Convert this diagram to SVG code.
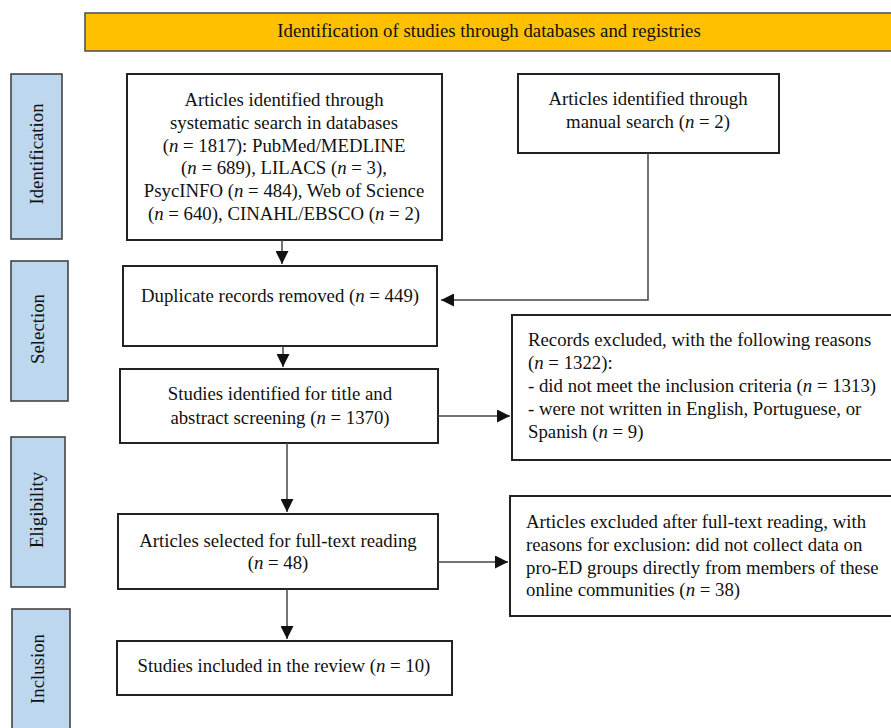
<svg xmlns="http://www.w3.org/2000/svg" width="891" height="728" viewBox="0 0 891 728">
<defs>
<style>
text{font-family:'Liberation Serif',Tinos,'Times New Roman','DejaVu Serif',serif;font-size:18.8px;fill:#111}
.c{text-anchor:middle}
.i{font-style:italic}
.box{fill:#fff;stroke:#222;stroke-width:2}
.side{fill:#BDD7EE;stroke:#444;stroke-width:1.6}
.hdr{fill:#FFC000;stroke:#555;stroke-width:1.6}
.ln{fill:none;stroke:#444;stroke-width:1.5}
</style>
<marker id="ah2" viewBox="0 0 12 12" refX="12" refY="6" markerWidth="13" markerHeight="13" markerUnits="userSpaceOnUse" orient="auto">
<path d="M0,0 L12,6 L0,12 z" fill="#111"/>
</marker>
</defs>
<g id="header">
<rect class="hdr" x="85" y="13" width="810" height="38"/>
<text class="c" x="489" y="36.5">Identification of studies through databases and registries</text>
</g>
<g id="phase-identification">
<rect class="side" x="11" y="74" width="51" height="165"/>
<text class="c" transform="translate(43,154) rotate(-90)">Identification</text>
</g>
<g id="phase-selection">
<rect class="side" x="11" y="261" width="57" height="140"/>
<text class="c" transform="translate(44,329) rotate(-90)">Selection</text>
</g>
<g id="phase-eligibility">
<rect class="side" x="11" y="437" width="54" height="150"/>
<text class="c" transform="translate(43,510) rotate(-90)">Eligibility</text>
</g>
<g id="phase-inclusion">
<rect class="side" x="12" y="609" width="58" height="130"/>
<text class="c" transform="translate(44,669) rotate(-90)">Inclusion</text>
</g>
<g id="db-search">
<rect class="box" x="127" y="74" width="315" height="166"/>
<text class="c" x="284" y="106">Articles identified through</text>
<text class="c" x="284" y="129">systematic search in databases</text>
<text class="c" x="284" y="152">(<tspan class="i">n</tspan> = 1817): PubMed/MEDLINE</text>
<text class="c" x="284" y="174">(<tspan class="i">n</tspan> = 689), LILACS (<tspan class="i">n</tspan> = 3),</text>
<text class="c" x="284" y="197">PsycINFO (<tspan class="i">n</tspan> = 484), Web of Science</text>
<text class="c" x="284" y="220">(<tspan class="i">n</tspan> = 640), CINAHL/EBSCO (<tspan class="i">n</tspan> = 2)</text>
</g>
<g id="manual-search">
<rect class="box" x="518" y="74" width="261" height="79"/>
<text class="c" x="648" y="105">Articles identified through</text>
<text class="c" x="648" y="128">manual search (<tspan class="i">n</tspan> = 2)</text>
</g>
<g id="duplicates">
<rect class="box" x="123" y="266" width="314" height="80"/>
<text class="c" x="280" y="302">Duplicate records removed (<tspan class="i">n</tspan> = 449)</text>
</g>
<g id="screening">
<rect class="box" x="120" y="369" width="318" height="74"/>
<text class="c" x="280" y="400">Studies identified for title and</text>
<text class="c" x="280" y="424">abstract screening (<tspan class="i">n</tspan> = 1370)</text>
</g>
<g id="records-excluded">
<rect class="box" x="512" y="315" width="390" height="145"/>
<text x="528" y="346">Records excluded, with the following reasons</text>
<text x="528" y="369">(<tspan class="i">n</tspan> = 1322):</text>
<text x="528" y="392">- did not meet the inclusion criteria (<tspan class="i">n</tspan> = 1313)</text>
<text x="528" y="415">- were not written in English, Portuguese, or</text>
<text x="528" y="438">Spanish (<tspan class="i">n</tspan> = 9)</text>
</g>
<g id="fulltext">
<rect class="box" x="118" y="514" width="320" height="75"/>
<text class="c" x="278" y="547">Articles selected for full-text reading</text>
<text class="c" x="278" y="569">(<tspan class="i">n</tspan> = 48)</text>
</g>
<g id="fulltext-excluded">
<rect class="box" x="510" y="496" width="392" height="120"/>
<text x="526" y="528">Articles excluded after full-text reading, with</text>
<text x="526" y="551">reasons for exclusion: did not collect data on</text>
<text x="526" y="574">pro-ED groups directly from members of these</text>
<text x="526" y="596">online communities (<tspan class="i">n</tspan> = 38)</text>
</g>
<g id="included">
<rect class="box" x="117" y="641" width="335" height="54"/>
<text class="c" x="284" y="672">Studies included in the review (<tspan class="i">n</tspan> = 10)</text>
</g>
<g id="connectors">
<path class="ln" d="M282,240 V264" marker-end="url(#ah2)"/>
<path class="ln" d="M648,153 V300 H441" marker-end="url(#ah2)"/>
<path class="ln" d="M283,346 V367" marker-end="url(#ah2)"/>
<path class="ln" d="M438,416 H510" marker-end="url(#ah2)"/>
<path class="ln" d="M287,443 V512" marker-end="url(#ah2)"/>
<path class="ln" d="M438,562 H508" marker-end="url(#ah2)"/>
<path class="ln" d="M287,589 V639" marker-end="url(#ah2)"/>
</g>
</svg>
